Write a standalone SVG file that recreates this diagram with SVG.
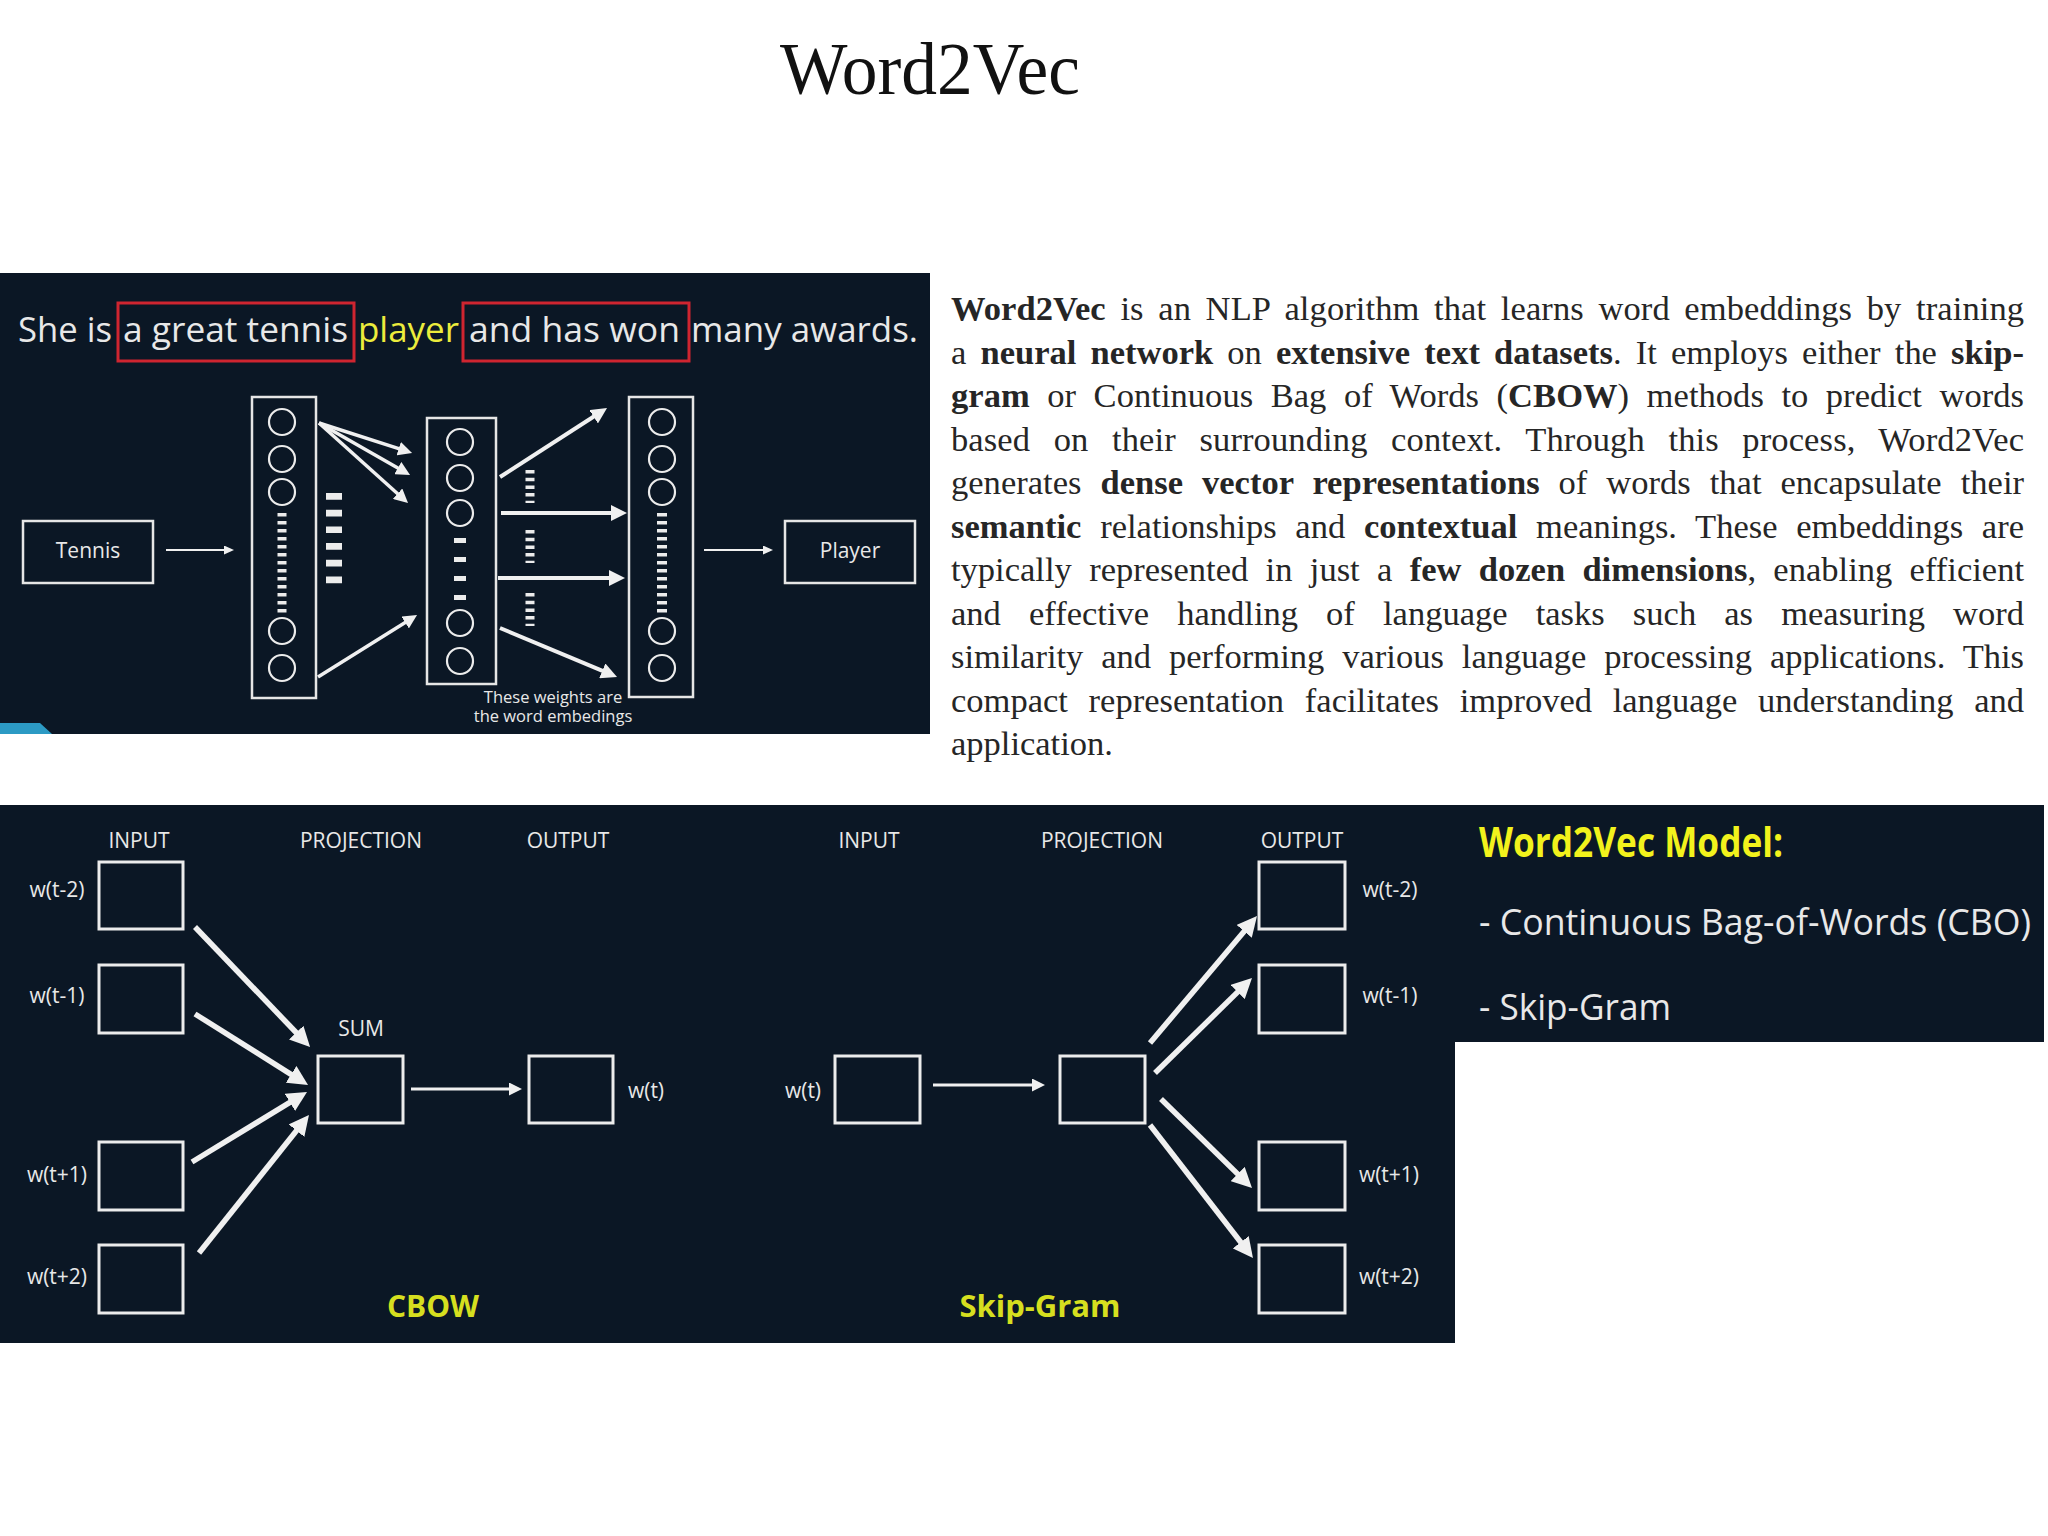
<svg xmlns="http://www.w3.org/2000/svg" width="2048" height="1536" viewBox="0 0 2048 1536">
<style>
.panel{fill:#0b1725}
.box{fill:none;stroke:#ececec;stroke-width:3}
.col{fill:none;stroke:#e6e6e6;stroke-width:2.5}
.cir{fill:none;stroke:#ececec;stroke-width:2.2}
.lbl{font-family:'Open Sans','Liberation Sans',sans-serif;fill:#e8e8e8}
.para{font-family:'Liberation Serif','Times New Roman',serif;font-size:34.5px;fill:#262626}
.b{font-weight:bold}
.red{fill:none;stroke:#cf2530;stroke-width:3}
.ar{stroke:#f0f0f0;fill:none}
.dash{stroke:#ececec;fill:none}
</style>
<defs>
<marker id="mThick" markerUnits="userSpaceOnUse" markerWidth="20" markerHeight="20" viewBox="0 0 20 20" refX="13" refY="10" orient="auto"><path d="M0,0 L20,10 L0,20 z" fill="#f0f0f0"/></marker>
<marker id="mThin" markerUnits="userSpaceOnUse" markerWidth="13" markerHeight="13" viewBox="0 0 13 13" refX="8" refY="6.5" orient="auto"><path d="M0,0 L13,6.5 L0,13 z" fill="#f0f0f0"/></marker>
<marker id="mSmall" markerUnits="userSpaceOnUse" markerWidth="10" markerHeight="9" viewBox="0 0 10 9" refX="6" refY="4.5" orient="auto"><path d="M0,0 L10,4.5 L0,9 z" fill="#f0f0f0"/></marker>
<marker id="mNet" markerUnits="userSpaceOnUse" markerWidth="14" markerHeight="14" viewBox="0 0 14 14" refX="9" refY="7" orient="auto"><path d="M0,0 L14,7 L0,14 z" fill="#f0f0f0"/></marker>
<marker id="mNet2" markerUnits="userSpaceOnUse" markerWidth="16" markerHeight="16" viewBox="0 0 16 16" refX="10" refY="8" orient="auto"><path d="M0,0 L16,8 L0,16 z" fill="#f0f0f0"/></marker>
</defs>
<rect x="0" y="0" width="2048" height="1536" fill="#ffffff"/>

<g id="title"><text x="780" y="94" font-family="'Liberation Serif','Times New Roman',serif" font-size="74" fill="#111" textLength="300" lengthAdjust="spacingAndGlyphs">Word2Vec</text></g>

<!-- Top panel -->
<g id="top-panel">
<rect class="panel" x="0" y="273" width="930" height="461"/>
<polygon points="0,723 40,723 52,734 0,734" fill="#2c9ac4"/>
<g id="sentence" class="lbl" font-size="34.5">
<text x="18" y="342" textLength="94" lengthAdjust="spacingAndGlyphs">She is</text>
<text x="123" y="342" textLength="225" lengthAdjust="spacingAndGlyphs">a great tennis</text>
<text x="358" y="342" textLength="101" lengthAdjust="spacingAndGlyphs" fill="#ecec3c">player</text>
<text x="469" y="342" textLength="211" lengthAdjust="spacingAndGlyphs">and has won</text>
<text x="691" y="342" textLength="227" lengthAdjust="spacingAndGlyphs">many awards.</text>
<rect class="red" x="118" y="303" width="236" height="58"/>
<rect class="red" x="463" y="303" width="226" height="58"/>
</g>
<g id="tennis"><rect class="col" x="23" y="521" width="130" height="62"/><text class="lbl" x="88" y="558" font-size="21" text-anchor="middle">Tennis</text></g>
<g id="player"><rect class="col" x="785" y="521" width="130" height="62"/><text class="lbl" x="850" y="558" font-size="21" text-anchor="middle">Player</text></g>
<g id="layer-input">
<rect class="col" x="252" y="397" width="64" height="301"/>
<circle class="cir" cx="282" cy="422" r="13"/><circle class="cir" cx="282" cy="459" r="13"/><circle class="cir" cx="282" cy="492" r="13"/>
<circle class="cir" cx="282" cy="631" r="13"/><circle class="cir" cx="282" cy="668" r="13"/>
<line class="dash" x1="282" y1="513" x2="282" y2="614" stroke-width="9" stroke-dasharray="3.5 4.5"/>
</g>
<g id="layer-hidden">
<rect class="col" x="427" y="418" width="69" height="266"/>
<circle class="cir" cx="460" cy="442" r="13"/><circle class="cir" cx="460" cy="478" r="13"/><circle class="cir" cx="460" cy="513" r="13"/>
<circle class="cir" cx="460" cy="623" r="13"/><circle class="cir" cx="460" cy="661" r="13"/>
<line class="dash" x1="460" y1="538" x2="460" y2="600" stroke-width="12" stroke-dasharray="5 14"/>
</g>
<g id="layer-output">
<rect class="col" x="629" y="397" width="64" height="300"/>
<circle class="cir" cx="662" cy="422" r="13"/><circle class="cir" cx="662" cy="459" r="13"/><circle class="cir" cx="662" cy="492" r="13"/>
<circle class="cir" cx="662" cy="631" r="13"/><circle class="cir" cx="662" cy="668" r="13"/>
<line class="dash" x1="662" y1="513" x2="662" y2="614" stroke-width="10" stroke-dasharray="3.5 4.5"/>
</g>
<g id="weight-marks">
<line class="dash" x1="334" y1="493" x2="334" y2="584" stroke-width="16" stroke-dasharray="6.7 10"/>
<line class="dash" x1="530" y1="470" x2="530" y2="503" stroke-width="9" stroke-dasharray="3.5 4.2"/>
<line class="dash" x1="530" y1="530" x2="530" y2="563" stroke-width="9" stroke-dasharray="3.5 4.2"/>
<line class="dash" x1="530" y1="593" x2="530" y2="626" stroke-width="9" stroke-dasharray="3.5 4.2"/>
</g>
<g id="weights-note" class="lbl" font-size="16.5" text-anchor="middle">
<text x="553" y="703">These weights are</text>
<text x="553" y="722">the word embedings</text>
</g>
</g>

<g id="top-connectors" class="ar">
<line x1="166" y1="550" x2="230" y2="550" stroke-width="2" marker-end="url(#mSmall)"/>
<line x1="704" y1="550" x2="769" y2="550" stroke-width="2" marker-end="url(#mSmall)"/>
<line x1="319" y1="423" x2="407.3" y2="451.4" stroke-width="3.5" marker-end="url(#mNet)"/>
<line x1="319" y1="423" x2="405.7" y2="472.5" stroke-width="3.5" marker-end="url(#mNet)"/>
<line x1="319" y1="423" x2="404.3" y2="499.7" stroke-width="3.5" marker-end="url(#mNet)"/>
<line x1="318" y1="677" x2="412.8" y2="617.7" stroke-width="3.5" marker-end="url(#mNet)"/>
<line x1="500" y1="477" x2="602" y2="411.3" stroke-width="4" marker-end="url(#mNet2)"/>
<line x1="501" y1="513" x2="621" y2="513" stroke-width="4" marker-end="url(#mNet2)"/>
<line x1="498" y1="578" x2="619" y2="578" stroke-width="4" marker-end="url(#mNet2)"/>
<line x1="500" y1="628" x2="611.5" y2="674.7" stroke-width="4" marker-end="url(#mNet2)"/>
</g>

<!-- Paragraph -->
<g id="paragraph" class="para">
<text x="951" y="320" word-spacing="5.9" textLength="1073" lengthAdjust="spacing"><tspan class="b">Word2Vec</tspan> is an NLP algorithm that learns word embeddings by training</text>
<text x="951" y="363.5" word-spacing="5.55" textLength="1073" lengthAdjust="spacing">a <tspan class="b">neural network</tspan> on <tspan class="b">extensive text datasets</tspan>. It employs either the <tspan class="b">skip-</tspan></text>
<text x="951" y="407" word-spacing="8.8" textLength="1073" lengthAdjust="spacing"><tspan class="b">gram</tspan> or Continuous Bag of Words (<tspan class="b">CBOW</tspan>) methods to predict words</text>
<text x="951" y="450.5" word-spacing="14.8" textLength="1073" lengthAdjust="spacing">based on their surrounding context. Through this process, Word2Vec</text>
<text x="951" y="494" word-spacing="10.3" textLength="1073" lengthAdjust="spacing">generates <tspan class="b">dense vector representations</tspan> of words that encapsulate their</text>
<text x="951" y="537.5" word-spacing="10.1" textLength="1073" lengthAdjust="spacing"><tspan class="b">semantic</tspan> relationships and <tspan class="b">contextual</tspan> meanings. These embeddings are</text>
<text x="951" y="581" word-spacing="8.7" textLength="1073" lengthAdjust="spacing">typically represented in just a <tspan class="b">few dozen dimensions</tspan>, enabling efficient</text>
<text x="951" y="624.5" word-spacing="19.5" textLength="1073" lengthAdjust="spacing">and effective handling of language tasks such as measuring word</text>
<text x="951" y="668" word-spacing="9.3" textLength="1073" lengthAdjust="spacing">similarity and performing various language processing applications. This</text>
<text x="951" y="711.5" word-spacing="12.1" textLength="1073" lengthAdjust="spacing">compact representation facilitates improved language understanding and</text>
<text x="951" y="755">application.</text>
</g>

<!-- Bottom panel -->
<rect id="bottom-panel" class="panel" x="0" y="805" width="1455" height="538"/>
<g id="cbow">
<g class="lbl" font-size="21" text-anchor="middle">
<text x="139" y="848">INPUT</text><text x="361" y="848">PROJECTION</text><text x="568" y="848">OUTPUT</text>
</g>
<g id="cbow-in1"><rect class="box" x="99" y="862" width="84" height="67"/><text class="lbl" x="57" y="897" font-size="21" text-anchor="middle">w(t-2)</text></g>
<g id="cbow-in2"><rect class="box" x="99" y="965" width="84" height="68"/><text class="lbl" x="57" y="1003" font-size="21" text-anchor="middle">w(t-1)</text></g>
<g id="cbow-in3"><rect class="box" x="99" y="1142" width="84" height="68"/><text class="lbl" x="57" y="1182" font-size="21" text-anchor="middle">w(t+1)</text></g>
<g id="cbow-in4"><rect class="box" x="99" y="1245" width="84" height="68"/><text class="lbl" x="57" y="1284" font-size="21" text-anchor="middle">w(t+2)</text></g>
<g id="cbow-sum"><text class="lbl" x="361" y="1036" font-size="21" text-anchor="middle">SUM</text><rect class="box" x="318" y="1056" width="85" height="67"/></g>
<g id="cbow-out"><rect class="box" x="529" y="1056" width="84" height="67"/><text class="lbl" x="646" y="1098" font-size="21" text-anchor="middle">w(t)</text></g>
<text x="433" y="1317" font-family="'Open Sans','Liberation Sans',sans-serif" font-weight="bold" font-size="30" fill="#d6df1f" text-anchor="middle">CBOW</text>
</g>

<g id="skipgram">
<g class="lbl" font-size="21" text-anchor="middle">
<text x="869" y="848">INPUT</text><text x="1102" y="848">PROJECTION</text><text x="1302" y="848">OUTPUT</text>
</g>
<g id="sg-in"><text class="lbl" x="803" y="1098" font-size="21" text-anchor="middle">w(t)</text><rect class="box" x="835" y="1056" width="85" height="67"/></g>
<g id="sg-proj"><rect class="box" x="1060" y="1056" width="85" height="67"/></g>
<g id="sg-out1"><rect class="box" x="1259" y="862" width="86" height="67"/><text class="lbl" x="1390" y="897" font-size="21" text-anchor="middle">w(t-2)</text></g>
<g id="sg-out2"><rect class="box" x="1259" y="965" width="86" height="68"/><text class="lbl" x="1390" y="1003" font-size="21" text-anchor="middle">w(t-1)</text></g>
<g id="sg-out3"><rect class="box" x="1259" y="1142" width="86" height="68"/><text class="lbl" x="1389" y="1182" font-size="21" text-anchor="middle">w(t+1)</text></g>
<g id="sg-out4"><rect class="box" x="1259" y="1245" width="86" height="68"/><text class="lbl" x="1389" y="1284" font-size="21" text-anchor="middle">w(t+2)</text></g>
<text x="1040" y="1317" font-family="'Open Sans','Liberation Sans',sans-serif" font-weight="bold" font-size="31" fill="#d6df1f" text-anchor="middle">Skip-Gram</text>
</g>

<g id="bottom-connectors" class="ar">
<line x1="195" y1="927" x2="305.2" y2="1042" stroke-width="5.5" marker-end="url(#mThick)"/>
<line x1="195" y1="1014" x2="302.1" y2="1081.3" stroke-width="5.5" marker-end="url(#mThick)"/>
<line x1="192" y1="1162" x2="301" y2="1095.6" stroke-width="5.5" marker-end="url(#mThick)"/>
<line x1="199" y1="1253" x2="304.6" y2="1120.5" stroke-width="5.5" marker-end="url(#mThick)"/>
<line x1="411" y1="1089" x2="517" y2="1089" stroke-width="3" marker-end="url(#mThin)"/>
<line x1="933" y1="1085" x2="1040" y2="1085" stroke-width="3" marker-end="url(#mThin)"/>
<line x1="1150" y1="1043" x2="1252.5" y2="921.4" stroke-width="5.5" marker-end="url(#mThick)"/>
<line x1="1155" y1="1073" x2="1247" y2="982.9" stroke-width="5.5" marker-end="url(#mThick)"/>
<line x1="1161" y1="1099" x2="1247" y2="1183.1" stroke-width="5.5" marker-end="url(#mThick)"/>
<line x1="1150" y1="1125" x2="1248.7" y2="1252.5" stroke-width="5.5" marker-end="url(#mThick)"/>
</g>

<g id="model-panel">
<rect class="panel" x="1455" y="805" width="589" height="237"/>
<text x="1479" y="857" font-family="'Open Sans','Liberation Sans',sans-serif" font-weight="bold" font-size="42" fill="#f2f21c" textLength="304" lengthAdjust="spacingAndGlyphs">Word2Vec Model:</text>
<text class="lbl" x="1479" y="935" font-size="37" fill="#eeeeee" textLength="552" lengthAdjust="spacingAndGlyphs">- Continuous Bag-of-Words (CBO)</text>
<text class="lbl" x="1479" y="1020" font-size="37" fill="#eeeeee" textLength="192" lengthAdjust="spacingAndGlyphs">- Skip-Gram</text>
</g>
</svg>
